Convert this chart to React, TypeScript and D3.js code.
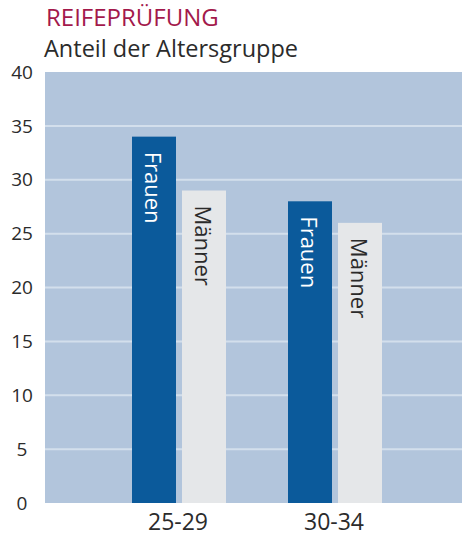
import { useEffect, useRef } from "react"
import * as d3 from "d3"

// chart data
const groups = ["25-29", "30-34"]
const series = ["Frauen", "Männer"]
const frauenValues = [34, 28]
const maennerValues = [29, 26]
const yTicks = [0, 5, 10, 15, 20, 25, 30, 35, 40]

const W = 462
const H = 537

const App = () => {
  const svgRef = useRef<SVGSVGElement>(null)

  useEffect(() => {
    if (!svgRef.current) return
    const svg = d3.select(svgRef.current)
    svg.selectAll("*").remove()

    const font = "'Open Sans', 'Noto Sans', sans-serif"
    const plotLeft = 45
    const plotRight = W
    const plotTop = 72
    const plotBottom = 503

    const y = d3.scaleLinear().domain([0, 40]).range([plotBottom, plotTop])
    const x0 = d3.scaleBand<string>().domain(groups).range([101, 413]).padding(0)
    const x1 = d3
      .scaleBand<string>()
      .domain(series)
      .range([0, x0.bandwidth()])
      .paddingInner(0.12)
      .paddingOuter(0.62)

    const color: Record<string, string> = { Frauen: "#0b5a9b", "Männer": "#e5e7e9" }
    const textColor: Record<string, string> = { Frauen: "#ffffff", "Männer": "#2a2a2a" }

    // titles
    svg
      .append("text")
      .attr("x", 46)
      .attr("y", 26)
      .attr("font-family", font)
      .attr("font-size", 24)
      .attr("fill", "#a3194b")
      .text("REIFEPRÜFUNG")
    svg
      .append("text")
      .attr("x", 44)
      .attr("y", 57)
      .attr("font-family", font)
      .attr("font-size", 23.5)
      .attr("fill", "#2b2b2b")
      .text("Anteil der Altersgruppe")

    // plot background
    svg
      .append("rect")
      .attr("x", plotLeft)
      .attr("y", plotTop)
      .attr("width", plotRight - plotLeft)
      .attr("height", plotBottom - plotTop)
      .attr("fill", "#b2c5dc")

    // grid lines
    svg
      .selectAll(".grid")
      .data(yTicks.filter((t) => t > 0 && t < 40))
      .join("line")
      .attr("class", "grid")
      .attr("x1", plotLeft)
      .attr("x2", plotRight)
      .attr("y1", (d) => y(d))
      .attr("y2", (d) => y(d))
      .attr("stroke", "#d3dfec")
      .attr("stroke-width", 2)

    // y tick labels
    svg
      .selectAll(".ytick")
      .data(yTicks)
      .join("text")
      .attr("class", "ytick")
      .attr("x", 22)
      .attr("y", (d) => y(d))
      .attr("dy", "0.35em")
      .attr("text-anchor", "middle")
      .attr("font-family", font)
      .attr("font-size", 19)
      .attr("fill", "#2b2b2b")
      .text((d) => d)

    const rows = groups.flatMap((g, i) => [
      { group: g, key: "Frauen", value: frauenValues[i] },
      { group: g, key: "Männer", value: maennerValues[i] },
    ])

    const bar = svg
      .selectAll("g.bar")
      .data(rows)
      .join("g")
      .attr("class", "bar")
      .attr("transform", (d) => `translate(${(x0(d.group) ?? 0) + (x1(d.key) ?? 0)},0)`)

    bar
      .append("rect")
      .attr("y", (d) => y(d.value))
      .attr("width", x1.bandwidth())
      .attr("height", (d) => plotBottom - y(d.value))
      .attr("fill", (d) => color[d.key])

    bar
      .append("text")
      .attr("transform", (d) => `translate(${x1.bandwidth() / 2},${y(d.value) + 15}) rotate(90)`)
      .attr("dominant-baseline", "central")
      .attr("font-family", font)
      .attr("font-size", 22)
      .attr("fill", (d) => textColor[d.key])
      .text((d) => d.key)

    // x labels
    svg
      .selectAll(".xlabel")
      .data(groups)
      .join("text")
      .attr("class", "xlabel")
      .attr("x", (d) => (x0(d) ?? 0) + x0.bandwidth() / 2 - 1)
      .attr("y", 530)
      .attr("text-anchor", "middle")
      .attr("font-family", font)
      .attr("font-size", 23)
      .attr("fill", "#2b2b2b")
      .text((d) => d)
  }, [])

  return (
    <svg
      ref={svgRef}
      width={W}
      height={H}
      style={{ position: "absolute", left: 0, top: 0, background: "#fff" }}
    />
  )
}

export default App
